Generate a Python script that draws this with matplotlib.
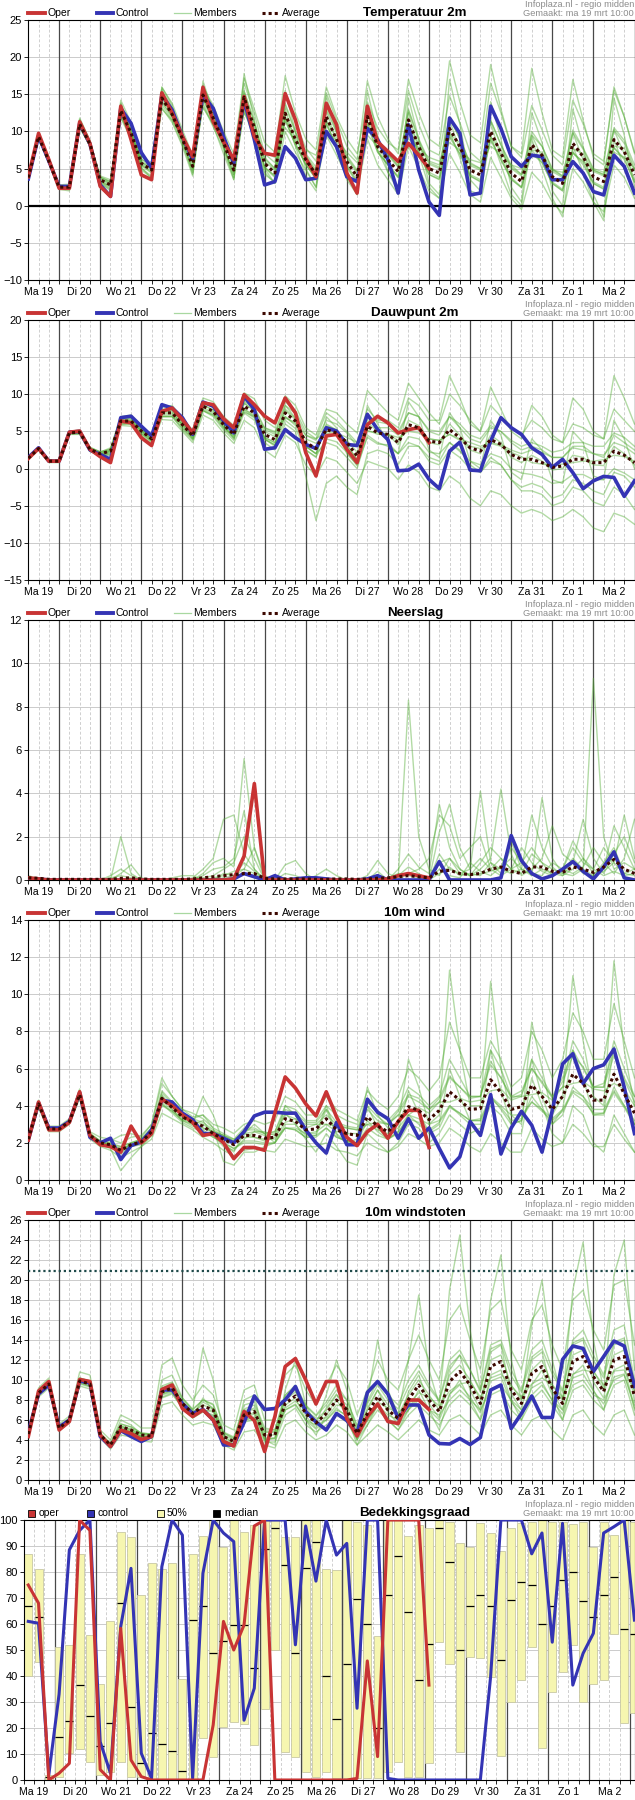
import numpy as np
import matplotlib
matplotlib.use('Agg')
import matplotlib.pyplot as plt
from matplotlib.lines import Line2D
from matplotlib.patches import Rectangle

plt.rcParams['font.family'] = ['Liberation Sans', 'DejaVu Sans']

# one value every 6 hours, starting Ma 19 06:00 (60 steps up to Di 3 00:00)
day_labels = ['Ma 19', 'Di 20', 'Wo 21', 'Do 22', 'Vr 23', 'Za 24', 'Zo 25',
              'Ma 26', 'Di 27', 'Wo 28', 'Do 29', 'Vr 30', 'Za 31', 'Zo 1', 'Ma 2']

# ---------------- Temperatuur 2m ----------------
temp_avg = [3.8, 9.3, 6.0, 2.5, 2.5, 11.0, 8.3, 3.5, 2.8, 12.8,
            9.8, 5.7, 4.8, 14.5, 12.3, 9.0, 5.3, 14.9, 11.8, 8.5,
            4.8, 14.6, 10.5, 5.7, 4.4, 12.45, 8.9, 6.2, 4.2, 12.0,
            8.9, 5.95, 3.9, 12.0, 7.95, 6.2, 4.6, 11.55, 7.95, 5.0,
            4.4, 10.4, 7.95, 4.8, 4.15, 10.0, 7.05, 4.4, 3.25, 8.2,
            6.8, 3.9, 3.0, 8.4, 6.6, 3.9, 3.25, 8.9, 7.3, 4.15]
temp_oper = [3.9, 9.75, 6.2, 2.35, 2.35, 11.3, 8.4, 2.6, 1.25, 13.4,
             8.9, 4.15, 3.5, 15.2, 12.45, 9.3, 6.6, 15.95, 11.3, 8.6,
             6.2, 14.7, 9.3, 7.05, 6.8, 15.1, 11.55, 6.4, 3.9, 13.8,
             10.9, 4.4, 1.7, 13.4, 8.6, 7.3, 5.95, 8.4, 6.8, 5.0]
temp_ctrl = [3.6, 9.4, 6.0, 2.6, 2.6, 11.1, 8.3, 2.8, 1.25, 13.1,
             11.1, 7.15, 5.05, 14.9, 12.9, 9.3, 6.2, 14.9, 13.1, 9.3,
             5.7, 14.2, 8.9, 2.8, 3.25, 7.95, 6.4, 3.5, 3.7, 10.0,
             7.95, 3.9, 3.25, 10.4, 8.9, 6.2, 1.7, 10.9, 4.8, 0.5,
             -1.3, 11.8, 9.75, 1.45, 1.7, 13.4, 10.4, 6.6, 5.3, 6.8,
             6.6, 3.5, 3.5, 5.95, 4.4, 1.9, 1.45, 6.8, 5.3, 1.7]
temp_members = [
    [3.9, 9.6, 6.3, 2.7, 2.6, 11.5, 8.6, 3.9, 3.2, 13.6, 10.5, 6.3, 5.4, 15.6, 13.2, 9.8, 6.2, 16.2, 13.0, 9.6,
     6.0, 16.5, 12.4, 7.0, 5.8, 15.0, 11.2, 7.8, 6.0, 15.2, 11.5, 8.0, 6.2, 16.8, 12.0, 9.0, 7.0, 15.5, 11.0, 7.5,
     6.8, 14.8, 11.2, 7.2, 6.0, 16.5, 12.5, 8.0, 6.5, 13.5, 10.2, 6.8, 5.5, 14.2, 11.0, 7.0, 6.0, 15.5, 12.0, 7.2],
    [3.7, 9.0, 5.8, 2.3, 2.4, 10.6, 8.0, 3.2, 2.3, 12.0, 9.2, 5.0, 4.0, 13.6, 11.5, 8.2, 4.5, 13.5, 10.6, 7.6,
     3.8, 12.8, 9.0, 4.5, 3.0, 10.0, 7.2, 4.8, 2.5, 9.5, 6.8, 4.0, 1.8, 9.0, 5.5, 3.5, 1.5, 8.0, 5.0, 2.0,
     1.0, 7.0, 4.5, 1.5, 0.5, 6.5, 3.8, 1.0, -0.5, 4.5, 3.0, 0.5, -1.0, 5.0, 3.2, 0.5, -0.8, 5.5, 3.8, 1.0],
    [3.8, 9.5, 6.1, 2.2, 2.0, 11.8, 8.8, 3.0, 2.0, 13.8, 10.2, 5.2, 3.6, 16.0, 13.5, 9.0, 4.2, 16.8, 12.5, 8.0,
     3.5, 17.8, 11.5, 5.0, 3.0, 15.5, 10.0, 5.0, 2.5, 14.8, 10.0, 4.0, 1.5, 15.5, 9.5, 4.5, 2.0, 14.5, 9.0, 3.0,
     1.5, 17.0, 11.0, 3.5, 2.0, 14.0, 9.0, 2.5, 0.5, 12.5, 8.5, 2.0, 0.0, 13.0, 8.0, 1.5, -1.5, 14.5, 9.5, 2.5],
    [3.9, 9.0, 6.0, 2.8, 2.9, 10.5, 8.2, 4.0, 3.5, 12.0, 9.6, 6.2, 5.6, 13.0, 11.5, 9.5, 6.5, 13.2, 11.0, 9.2,
     6.5, 12.5, 10.0, 7.2, 6.5, 10.5, 8.8, 7.5, 6.8, 10.0, 8.8, 7.2, 5.8, 9.5, 8.0, 7.0, 6.0, 9.0, 7.8, 6.5,
     6.0, 8.5, 7.5, 6.2, 5.8, 8.0, 7.0, 5.5, 5.0, 6.8, 6.2, 4.8, 4.5, 7.0, 6.0, 4.8, 4.2, 7.2, 6.5, 5.0],
    [3.8, 9.4, 6.1, 2.5, 2.6, 11.2, 8.4, 3.6, 3.0, 13.0, 10.0, 5.9, 5.0, 14.8, 12.6, 9.3, 5.8, 15.3, 12.2, 9.0,
     5.5, 15.4, 11.2, 6.5, 5.0, 13.8, 10.0, 7.0, 5.2, 13.5, 10.0, 6.8, 4.8, 13.0, 8.8, 7.0, 5.5, 13.0, 9.0, 6.0,
     5.5, 12.0, 9.0, 5.8, 5.0, 11.5, 8.2, 5.5, 4.2, 10.0, 8.0, 5.0, 4.0, 10.2, 7.8, 5.0, 4.5, 10.5, 8.8, 5.5],
    [3.7, 9.2, 5.9, 2.4, 2.4, 10.8, 8.1, 3.3, 2.6, 12.5, 9.5, 5.5, 4.5, 14.0, 12.0, 8.8, 5.0, 14.5, 11.4, 8.0,
     4.2, 13.8, 10.0, 5.2, 4.0, 11.5, 8.2, 5.6, 3.6, 11.0, 8.0, 5.2, 3.0, 11.2, 7.2, 5.5, 3.8, 10.2, 7.0, 4.2,
     3.5, 9.5, 7.0, 4.0, 3.2, 9.0, 6.2, 3.5, 2.5, 7.5, 5.8, 3.0, 2.0, 7.2, 5.5, 3.0, 2.2, 7.8, 6.2, 3.2],
    [3.9, 9.7, 6.4, 2.6, 2.5, 11.6, 8.7, 3.8, 3.3, 14.2, 11.2, 6.6, 5.8, 15.9, 13.8, 10.2, 6.8, 16.0, 13.5, 10.0,
     7.0, 17.2, 13.0, 8.5, 7.2, 17.5, 12.5, 9.0, 7.5, 16.0, 12.0, 9.0, 7.0, 14.0, 10.5, 8.5, 7.5, 17.0, 12.5, 9.0,
     8.0, 19.5, 14.0, 9.5, 8.5, 19.0, 13.0, 8.0, 7.0, 18.5, 12.5, 7.5, 6.5, 17.0, 11.5, 6.5, 5.5, 16.0, 12.0, 7.0],
    [3.6, 9.1, 5.8, 2.3, 2.2, 10.6, 8.0, 3.0, 2.2, 11.8, 9.0, 4.8, 3.8, 13.2, 11.2, 8.0, 4.0, 13.8, 10.8, 7.0,
     3.5, 13.0, 9.2, 4.2, 3.2, 12.0, 8.0, 4.0, 2.0, 11.5, 7.5, 3.5, 1.5, 12.5, 7.5, 4.5, 2.5, 11.0, 7.0, 2.5,
     1.0, 10.0, 6.5, 2.0, 1.5, 9.5, 5.5, 1.5, 0.0, 9.0, 5.0, 1.0, -1.5, 8.0, 4.5, 0.5, -2.0, 9.0, 5.0, 1.5],
    [4.0, 9.5, 6.2, 2.7, 2.7, 11.3, 8.6, 3.8, 3.1, 13.2, 10.2, 6.0, 5.2, 15.0, 12.8, 9.4, 5.8, 15.5, 12.4, 9.0,
     5.4, 15.5, 11.2, 6.3, 5.0, 13.5, 9.8, 6.8, 4.8, 13.0, 9.8, 6.6, 4.6, 13.2, 8.8, 7.0, 5.3, 12.8, 8.8, 5.8,
     5.2, 11.8, 9.0, 5.6, 5.0, 11.5, 8.2, 5.2, 4.2, 9.5, 8.0, 4.8, 4.0, 9.8, 7.6, 4.8, 4.2, 10.2, 8.4, 5.0],
    [3.7, 9.1, 5.8, 2.3, 2.3, 10.7, 8.0, 3.2, 2.5, 12.3, 9.4, 5.4, 4.4, 14.0, 11.8, 8.6, 4.8, 14.3, 11.2, 8.0,
     4.2, 13.9, 9.8, 5.1, 3.8, 11.6, 8.2, 5.6, 3.6, 11.0, 8.0, 5.3, 3.2, 10.8, 7.2, 5.5, 3.8, 10.5, 7.2, 4.2,
     3.6, 9.2, 7.0, 4.0, 3.3, 8.8, 6.2, 3.6, 2.4, 7.0, 5.8, 3.0, 2.0, 7.2, 5.8, 3.0, 2.3, 7.8, 6.4, 3.2],
    [3.8, 9.3, 6.0, 2.6, 2.5, 11.0, 8.4, 3.4, 2.7, 12.9, 10.0, 5.6, 4.7, 14.8, 12.0, 8.6, 5.0, 15.2, 12.2, 8.0,
     4.5, 15.0, 10.0, 5.2, 4.0, 13.0, 8.5, 5.5, 3.8, 12.8, 8.5, 5.5, 3.4, 12.8, 7.5, 5.5, 4.0, 12.5, 7.5, 4.5,
     3.8, 11.5, 7.5, 4.2, 3.5, 11.2, 6.5, 3.8, 2.5, 9.5, 6.5, 3.2, 2.2, 9.8, 6.2, 3.2, 2.5, 10.2, 7.0, 3.5],
    [3.9, 9.4, 6.1, 2.5, 2.6, 11.1, 8.2, 3.6, 2.9, 12.7, 9.6, 5.8, 4.9, 14.3, 12.5, 9.3, 5.6, 14.6, 11.5, 8.8,
     5.0, 14.2, 10.8, 6.0, 4.8, 12.0, 9.2, 6.6, 4.6, 11.5, 9.2, 6.4, 4.4, 11.2, 8.4, 6.8, 5.2, 10.8, 8.4, 5.6,
     5.0, 9.6, 8.5, 5.4, 4.8, 9.2, 7.6, 5.0, 4.0, 7.5, 7.2, 4.6, 3.8, 7.6, 7.0, 4.6, 4.0, 8.0, 7.8, 4.8],
]

# ---------------- Dauwpunt 2m ----------------
dew_avg = [1.4, 2.7, 1.0, 1.0, 4.8, 4.9, 2.6, 2.0, 2.35, 6.4,
           6.4, 5.05, 4.0, 7.5, 7.5, 5.9, 4.4, 8.4, 7.7, 5.9,
           4.6, 8.4, 7.5, 4.6, 3.9, 7.5, 6.4, 3.5, 2.7, 5.25,
           4.8, 3.5, 1.7, 5.7, 4.8, 4.6, 3.5, 5.9, 5.5, 3.7,
           3.5, 5.25, 4.15, 2.8, 2.35, 3.9, 3.25, 1.9, 1.25, 1.25,
           0.8, 0.15, 0.35, 1.25, 1.25, 0.8, 0.8, 2.35, 1.8, 0.8]
dew_oper = [1.35, 2.7, 1.0, 1.0, 4.9, 5.05, 2.6, 1.6, 0.8, 6.4,
            6.15, 4.15, 3.1, 7.7, 8.15, 6.6, 4.8, 8.85, 8.6, 6.7,
            5.5, 9.95, 8.6, 7.05, 6.15, 9.5, 7.5, 2.15, -1.0, 4.4,
            4.6, 2.6, 0.8, 5.9, 7.05, 6.15, 4.8, 5.25, 5.5, 3.5]
dew_ctrl = [1.5, 2.8, 1.0, 1.0, 4.9, 5.0, 2.5, 1.9, 1.25, 6.85,
            7.05, 5.7, 4.4, 8.6, 8.15, 6.85, 4.6, 8.95, 8.4, 6.4,
            4.8, 9.75, 7.95, 2.6, 2.8, 5.25, 4.15, 3.25, 2.7, 5.5,
            5.05, 3.25, 3.1, 7.3, 5.25, 3.9, -0.3, -0.2, 0.6, -1.45,
            -2.7, 2.35, 3.55, -0.2, -0.3, 3.7, 6.85, 5.5, 4.6, 2.8,
            1.9, 0.15, 1.25, -0.55, -2.7, -1.65, -1.05, -1.2, -3.75, -1.65]
dew_members = [
    [1.5, 2.9, 1.2, 1.1, 5.0, 5.2, 2.9, 2.2, 2.8, 7.0, 7.2, 5.6, 4.5, 8.2, 8.5, 6.8, 5.2, 9.5, 9.0, 7.0,
     5.8, 10.2, 9.4, 6.5, 5.5, 9.8, 8.5, 5.5, 4.5, 8.0, 7.5, 6.0, 4.8, 10.5, 9.0, 7.5, 6.5, 11.5, 9.5, 7.5,
     6.0, 10.0, 8.5, 6.5, 5.0, 8.5, 7.0, 5.5, 4.5, 6.5, 5.5, 4.0, 3.5, 6.0, 5.5, 4.5, 4.0, 8.0, 6.5, 5.0],
    [1.2, 2.5, 0.8, 0.8, 4.6, 4.6, 2.3, 1.7, 1.8, 5.8, 5.7, 4.4, 3.4, 6.6, 6.5, 5.0, 3.5, 7.2, 6.5, 4.8,
     3.4, 6.5, 5.5, 2.5, 1.5, 4.5, 3.5, 0.5, -1.0, 1.5, 1.0, -0.5, -2.0, 1.0, 0.5, 0.0, -1.5, 0.5, -0.5, -2.5,
     -3.0, -1.0, -2.0, -4.0, -5.0, -3.0, -3.5, -5.0, -6.0, -5.5, -6.0, -7.0, -6.5, -5.5, -6.5, -8.0, -8.5, -6.0, -6.5, -7.5],
    [1.4, 2.6, 0.9, 1.0, 5.0, 5.1, 2.4, 1.8, 2.0, 6.6, 6.8, 5.2, 3.8, 7.9, 8.0, 6.2, 4.0, 9.0, 8.3, 6.0,
     4.0, 9.5, 8.0, 4.0, 3.0, 8.5, 6.8, 2.5, 1.5, 7.0, 5.5, 2.0, 0.5, 8.5, 6.0, 3.5, 2.0, 9.0, 7.0, 2.5,
     1.5, 7.5, 5.5, 1.0, 0.0, 6.5, 4.5, -0.5, -1.5, 4.0, 2.5, -1.5, -2.0, 5.0, 3.5, -1.0, -1.5, 6.5, 4.0, 0.0],
    [1.6, 2.8, 1.1, 1.2, 4.7, 4.8, 2.8, 2.3, 2.6, 6.0, 6.1, 5.2, 4.3, 7.0, 7.0, 6.0, 5.0, 7.8, 7.2, 6.2,
     5.3, 7.6, 7.0, 5.5, 5.0, 6.8, 6.2, 4.5, 4.0, 5.0, 4.8, 4.2, 3.5, 5.0, 4.8, 4.6, 4.2, 5.0, 4.8, 4.0,
     3.8, 4.6, 4.0, 3.5, 3.0, 3.5, 3.2, 2.5, 2.0, 2.5, 2.2, 1.5, 1.5, 2.8, 2.5, 2.0, 1.8, 3.5, 3.0, 2.0],
    [1.3, 2.7, 1.0, 0.9, 4.8, 5.0, 2.6, 2.0, 2.2, 6.2, 6.5, 5.0, 3.9, 7.6, 7.8, 5.8, 4.2, 8.6, 7.9, 5.6,
     4.2, 8.8, 7.8, 4.0, 3.2, 7.8, 6.6, 3.0, 2.0, 6.0, 5.2, 3.2, 1.2, 6.5, 5.5, 5.5, 4.5, 7.5, 7.0, 5.0,
     4.5, 7.0, 5.5, 4.0, 3.5, 5.5, 5.0, 3.5, 2.5, 3.0, 2.5, 1.5, 1.5, 3.0, 3.0, 2.0, 1.5, 4.5, 3.5, 2.5],
    [1.4, 2.6, 1.0, 1.0, 4.8, 4.8, 2.5, 1.9, 2.4, 6.5, 6.3, 4.8, 3.7, 7.2, 7.2, 5.5, 4.0, 8.0, 7.4, 5.5,
     4.4, 8.0, 7.0, 4.2, 3.5, 7.0, 5.8, 3.0, 2.0, 3.5, 3.0, 1.5, 0.0, 4.5, 3.5, 3.0, 2.0, 3.5, 3.0, 1.0,
     0.5, 2.5, 1.5, 0.0, -0.5, 1.0, 0.5, -1.5, -2.5, -2.0, -2.5, -4.0, -3.5, -1.5, -2.0, -3.0, -3.5, -0.5, -1.0, -2.5],
    [1.5, 2.8, 1.1, 1.0, 4.9, 5.0, 2.7, 2.1, 2.5, 6.6, 6.6, 5.3, 4.3, 7.8, 7.9, 6.3, 4.9, 8.9, 8.3, 6.4,
     5.2, 9.2, 8.2, 5.5, 4.8, 9.0, 7.8, 5.0, 4.0, 7.5, 6.5, 5.0, 3.5, 8.0, 6.5, 6.5, 5.5, 9.5, 8.5, 6.5,
     6.5, 12.5, 9.5, 6.0, 5.0, 11.0, 8.0, 5.0, 4.0, 8.5, 7.0, 4.5, 3.5, 9.5, 8.0, 5.0, 4.0, 12.5, 9.5, 6.0],
    [1.3, 2.6, 0.9, 0.9, 4.7, 4.7, 2.4, 1.8, 1.9, 6.0, 6.0, 4.6, 3.6, 7.0, 7.0, 5.2, 3.8, 7.8, 7.0, 5.2,
     3.8, 7.5, 6.5, 3.5, 2.5, 6.0, 5.0, -1.0, -7.0, -2.0, -1.0, -2.5, -3.5, 2.0, 2.5, 2.0, 0.5, 3.0, 3.0, 1.5,
     1.0, 3.5, 2.5, 0.5, -0.5, 1.5, 0.5, -1.5, -3.0, -3.0, -3.5, -5.0, -4.5, -2.5, -3.0, -4.5, -5.0, -2.5, -3.5, -5.5],
    [1.5, 2.8, 1.1, 1.1, 4.9, 5.1, 2.8, 2.2, 2.6, 6.8, 6.8, 5.4, 4.3, 8.0, 8.0, 6.4, 4.8, 9.0, 8.2, 6.4,
     5.0, 9.0, 8.2, 5.3, 4.6, 8.5, 7.4, 4.5, 3.8, 6.5, 6.0, 4.8, 3.0, 7.2, 6.3, 6.0, 5.0, 7.5, 7.0, 5.2,
     5.0, 7.0, 6.0, 4.5, 4.0, 5.8, 5.0, 3.8, 3.0, 3.5, 3.0, 2.2, 2.5, 3.5, 3.5, 3.0, 3.0, 4.8, 4.2, 3.0],
    [1.3, 2.6, 0.9, 0.9, 4.7, 4.7, 2.4, 1.8, 2.1, 6.0, 6.0, 4.7, 3.7, 7.0, 7.0, 5.4, 4.0, 7.8, 7.2, 5.4,
     4.1, 7.8, 6.8, 3.9, 3.2, 6.5, 5.4, 2.5, 1.6, 4.0, 3.6, 2.2, 0.4, 4.2, 3.3, 3.2, 2.0, 4.3, 4.0, 2.2,
     2.0, 3.5, 2.3, 1.0, 0.5, 2.0, 1.5, 0.0, -0.6, -0.8, -1.2, -2.0, -1.8, -0.8, -0.8, -1.5, -1.5, 0.0, -0.6, -1.5],
    [1.4, 2.7, 1.0, 1.0, 4.8, 4.9, 2.6, 2.0, 2.4, 6.5, 6.5, 5.0, 4.0, 7.6, 7.6, 5.8, 4.3, 8.6, 7.8, 5.7,
     4.4, 8.8, 7.8, 4.2, 3.5, 8.0, 6.8, 3.0, 2.0, 5.8, 5.2, 3.2, 1.2, 6.2, 5.0, 4.6, 3.2, 6.5, 5.8, 3.5,
     3.2, 6.0, 4.5, 2.5, 2.0, 4.5, 3.5, 1.5, 0.8, 1.8, 1.0, -0.2, 0.0, 1.8, 1.5, 0.5, 0.4, 3.0, 2.0, 0.5],
    [1.4, 2.7, 1.0, 1.0, 4.8, 4.9, 2.6, 2.0, 2.3, 6.3, 6.3, 5.1, 4.1, 7.4, 7.4, 6.0, 4.5, 8.2, 7.6, 6.1,
     4.8, 8.0, 7.2, 5.0, 4.3, 7.0, 6.0, 4.0, 3.4, 4.8, 4.4, 3.8, 2.2, 5.2, 4.6, 4.6, 3.8, 5.4, 5.2, 4.0,
     3.8, 4.6, 3.8, 3.0, 2.7, 3.4, 3.0, 2.2, 1.6, 0.8, 0.6, 0.4, 0.6, 0.8, 1.0, 1.0, 1.2, 1.8, 1.6, 1.0],
]

# ---------------- Neerslag ----------------
rain_avg = [0.1, 0.08, 0.03, 0.03, 0.03, 0.03, 0.03, 0.03, 0.03, 0.08,
            0.1, 0.05, 0.03, 0.03, 0.03, 0.03, 0.05, 0.1, 0.15, 0.2,
            0.25, 0.3, 0.3, 0.08, 0.05, 0.05, 0.05, 0.05, 0.03, 0.03,
            0.05, 0.05, 0.03, 0.05, 0.08, 0.1, 0.15, 0.2, 0.15, 0.1,
            0.4, 0.45, 0.3, 0.25, 0.3, 0.5, 0.6, 0.4, 0.3, 0.6,
            0.6, 0.4, 0.35, 0.6, 0.5, 0.35, 0.6, 0.95, 0.5, 0.3]
rain_oper = [0.1, 0.05, 0, 0, 0, 0, 0, 0, 0, 0,
             0, 0, 0, 0, 0, 0, 0, 0, 0, 0,
             0.05, 1.1, 4.45, 0, 0, 0, 0, 0, 0, 0,
             0, 0, 0, 0, 0, 0.05, 0.2, 0.3, 0.2, 0.1]
rain_ctrl = [0.05, 0.05, 0, 0, 0, 0, 0, 0, 0, 0,
             0, 0, 0, 0, 0, 0, 0, 0, 0, 0,
             0.05, 0.3, 0.15, 0, 0.2, 0, 0.05, 0.1, 0.1, 0.05,
             0, 0, 0, 0.05, 0.2, 0, 0, 0, 0, 0,
             0.85, 0, 0, 0, 0, 0, 0.1, 2.05, 0.9, 0.3,
             0.05, 0.2, 0.5, 0.85, 0.4, 0.05, 0.6, 1.3, 0.1, 0]
rain_members = [
    [0.1, 0.1, 0, 0, 0, 0, 0, 0, 0, 2.0, 0.3, 0, 0, 0, 0, 0, 0, 0.3, 0.8, 1.0,
     0.6, 5.6, 1.5, 0.2, 0, 0, 0, 0, 0, 0, 0, 0, 0, 0, 0, 0, 0.5, 1.2, 0.6, 0.3,
     3.5, 1.5, 0.5, 0.2, 0.8, 1.5, 1.0, 0.5, 0.3, 1.2, 0.8, 0.2, 0.5, 1.8, 1.0, 0.3, 0.5, 2.5, 1.5, 0.5],
    [0.2, 0.05, 0, 0, 0, 0, 0, 0, 0, 0.3, 0.7, 0.1, 0, 0, 0, 0, 0.1, 0.5, 1.0, 2.8,
     3.0, 1.2, 0.5, 0, 0, 0, 0, 0, 0, 0, 0, 0, 0, 0.2, 0.9, 0.3, 0.1, 8.3, 2.0, 0.5,
     0.2, 1.0, 0.3, 0.5, 4.1, 0.8, 0.3, 1.5, 0.8, 0.2, 3.8, 1.0, 0.3, 0.2, 0.5, 9.3, 2.0, 0.5, 0.8, 0.5],
    [0.1, 0.1, 0, 0, 0, 0, 0, 0, 0.1, 0.2, 0.1, 0, 0, 0, 0, 0, 0, 0.2, 0.5, 0.6,
     1.0, 3.2, 0.5, 0, 0, 0.7, 0.9, 0.3, 0, 0, 0, 0, 0, 0, 0.4, 0, 0, 0, 0, 0,
     1.2, 0.5, 0.3, 0.2, 0.5, 1.0, 4.2, 1.2, 0.2, 0.5, 1.0, 2.5, 1.2, 0.8, 2.8, 1.0, 0.3, 1.2, 2.0, 0.8],
    [0.1, 0, 0, 0, 0, 0, 0, 0, 0, 0, 0, 0, 0, 0, 0.1, 0.2, 0.2, 0, 0, 0.3,
     0.2, 0.5, 1.5, 0, 0, 0.3, 0.2, 0, 0, 0, 0, 0, 0, 0, 0, 0, 0, 0.3, 0.5, 1.0,
     3.0, 2.5, 1.0, 1.5, 2.0, 0.5, 1.0, 0.5, 0.8, 1.5, 0.8, 0.5, 0.3, 1.0, 0.5, 0.2, 0.4, 0.8, 3.0, 1.0],
    [0, 0, 0, 0, 0, 0, 0, 0, 0, 0, 0, 0, 0, 0, 0, 0, 0, 0, 0.1, 0.2,
     0.4, 0.5, 0.3, 0, 0, 0, 0, 0, 0, 0, 0, 0, 0, 0, 0, 0, 0, 0, 0, 0,
     0.3, 0.6, 0.2, 0.3, 0.2, 0.8, 0.5, 0.3, 0.5, 3.0, 1.5, 0.6, 0.2, 0.5, 1.0, 0.5, 0.2, 0.4, 0.2, 0.3],
    [0.1, 0.1, 0, 0, 0, 0, 0, 0, 0, 0, 0, 0, 0, 0, 0, 0, 0, 0, 0, 0,
     0, 0.3, 0.1, 0, 0, 0, 0, 0, 0, 0, 0, 0, 0, 0, 0, 0, 0.2, 0.6, 0.3, 0,
     0.8, 1.0, 0.5, 0.2, 0.3, 0.4, 0.6, 1.0, 0.5, 0.3, 0.2, 0.8, 0.5, 0.3, 0.6, 1.5, 0.8, 0.3, 1.0, 2.8],
    [0.05, 0.05, 0, 0, 0, 0, 0, 0, 0.2, 0.5, 0.2, 0, 0, 0, 0, 0, 0, 0.1, 0.2, 0.5,
     0.8, 2.0, 1.0, 0, 0, 0, 0, 0, 0.2, 0.5, 0.2, 0, 0, 0, 0.1, 0, 0, 0, 0, 0,
     2.2, 3.5, 1.5, 0.5, 1.0, 0.5, 0.2, 0.5, 1.5, 0.8, 0.4, 0.2, 0.5, 1.5, 0.8, 0.5, 1.5, 0.8, 0.3, 0.5],
    [0.1, 0.05, 0, 0, 0, 0, 0, 0, 0, 0, 0, 0, 0, 0, 0, 0, 0, 0, 0, 0.1,
     0.2, 0.8, 0.4, 0, 0, 0, 0, 0, 0, 0, 0, 0, 0, 0, 0, 0.1, 0.3, 0.2, 0.1, 0,
     0.5, 0.2, 0.1, 0.8, 0.4, 0.2, 0.6, 1.8, 0.5, 0.2, 0.5, 0.3, 0.2, 0.8, 0.3, 0.2, 0.8, 1.5, 0.3, 0.2],
]

# ---------------- 10m wind ----------------
wind_avg = [2.2, 4.1, 2.75, 2.75, 3.15, 4.6, 2.4, 2.0, 1.9, 1.6,
            1.9, 2.05, 2.6, 4.4, 3.9, 3.4, 3.1, 2.9, 2.5, 2.2,
            1.9, 2.4, 2.4, 2.25, 2.3, 3.3, 3.15, 2.7, 2.75, 3.3,
            2.7, 2.5, 2.4, 3.4, 2.9, 2.6, 3.15, 3.95, 3.75, 3.25,
            3.75, 4.75, 4.3, 3.8, 3.85, 5.4, 4.7, 3.8, 3.95, 5.1,
            4.5, 3.8, 4.5, 5.7, 5.2, 4.3, 4.3, 5.7, 4.65, 3.6]
wind_oper = [2.15, 4.2, 2.7, 2.7, 3.1, 4.75, 2.4, 1.9, 1.8, 1.5,
             2.9, 2.0, 2.5, 4.35, 4.0, 3.5, 3.1, 2.4, 2.5, 2.0,
             1.15, 1.75, 1.75, 1.6, 3.6, 5.55, 4.95, 4.1, 3.45, 4.75,
             3.4, 2.3, 1.85, 2.6, 3.0, 2.25, 3.15, 3.75, 3.75, 1.75]
wind_ctrl = [2.15, 4.15, 2.8, 2.8, 3.15, 4.7, 2.3, 2.0, 2.25, 1.1,
             1.85, 2.05, 2.7, 4.3, 4.2, 3.6, 3.25, 2.5, 2.5, 2.25,
             2.0, 2.6, 3.45, 3.65, 3.65, 3.6, 3.6, 2.7, 2.0, 1.45,
             3.1, 1.9, 1.9, 4.35, 3.65, 3.3, 2.25, 3.3, 2.25, 2.8,
             1.7, 0.65, 1.25, 3.15, 2.4, 4.6, 1.4, 2.8, 3.7, 2.95,
             1.5, 3.75, 6.25, 6.8, 5.2, 6.0, 6.2, 7.05, 5.0, 2.5]
wind_members = [
    [2.3, 4.3, 2.9, 2.9, 3.3, 4.9, 2.6, 2.3, 2.2, 2.0, 2.3, 2.4, 3.0, 5.2, 4.5, 3.8, 3.4, 3.5, 3.0, 2.8,
     2.5, 3.0, 3.2, 3.0, 3.2, 4.5, 4.2, 3.5, 3.5, 4.5, 3.8, 3.5, 3.2, 4.8, 4.2, 3.8, 4.5, 6.0, 5.5, 4.8,
     5.5, 8.5, 7.0, 5.5, 5.5, 7.5, 6.5, 5.0, 5.5, 8.0, 7.0, 5.5, 6.5, 9.0, 8.0, 6.5, 6.5, 9.5, 7.5, 5.5],
    [2.1, 3.9, 2.6, 2.6, 3.0, 4.4, 2.2, 1.8, 1.6, 1.2, 1.5, 1.8, 2.2, 3.6, 3.3, 3.0, 2.7, 2.3, 2.0, 1.6,
     1.3, 1.6, 1.7, 1.6, 1.5, 2.2, 2.0, 1.8, 1.8, 2.0, 1.6, 1.5, 1.3, 2.0, 1.7, 1.5, 1.8, 2.5, 2.2, 1.8,
     2.0, 2.8, 2.4, 1.8, 1.5, 2.5, 2.0, 1.5, 1.5, 2.8, 2.2, 1.8, 2.0, 3.0, 2.5, 1.8, 1.8, 3.0, 2.2, 1.5],
    [2.2, 4.2, 2.7, 2.8, 3.2, 4.7, 2.5, 2.1, 1.9, 1.5, 2.0, 2.2, 2.8, 4.8, 4.2, 3.5, 3.0, 4.5, 3.5, 2.0,
     1.5, 2.5, 3.0, 2.5, 2.0, 4.0, 3.5, 2.5, 2.5, 4.0, 2.5, 2.0, 2.2, 5.0, 3.5, 2.8, 3.0, 6.5, 5.0, 3.0,
     3.5, 11.3, 7.0, 4.0, 4.0, 10.7, 6.0, 3.5, 3.0, 8.5, 6.0, 3.5, 4.5, 11.0, 7.5, 4.5, 4.0, 11.8, 7.0, 4.0],
    [2.2, 4.0, 2.8, 2.7, 3.1, 4.5, 2.4, 2.0, 1.9, 1.8, 2.0, 2.1, 2.5, 4.2, 3.8, 3.3, 3.0, 2.8, 2.6, 2.4,
     2.1, 2.3, 2.3, 2.2, 2.2, 2.8, 2.8, 2.5, 2.6, 3.0, 2.6, 2.5, 2.5, 3.0, 2.7, 2.5, 2.8, 3.5, 3.3, 3.0,
     3.2, 4.0, 3.6, 3.2, 3.3, 4.5, 4.0, 3.5, 3.5, 4.2, 3.8, 3.3, 3.8, 4.8, 4.5, 3.8, 3.8, 4.8, 4.0, 3.2],
    [2.2, 4.1, 2.7, 2.7, 3.1, 4.6, 2.3, 1.9, 1.7, 0.5, 1.2, 1.8, 2.4, 4.0, 3.7, 3.2, 3.3, 3.5, 2.8, 1.0,
     0.8, 1.5, 1.5, 1.8, 2.0, 3.0, 3.0, 2.2, 1.5, 2.5, 1.8, 1.0, 0.8, 2.5, 2.0, 1.5, 2.0, 3.0, 2.8, 2.0,
     2.5, 3.5, 3.0, 2.5, 2.8, 4.0, 3.5, 2.5, 2.5, 5.5, 4.0, 2.5, 2.0, 4.0, 3.5, 2.0, 1.5, 3.5, 2.5, 1.5],
    [2.3, 4.2, 2.8, 2.8, 3.2, 4.8, 2.5, 2.1, 2.1, 2.4, 2.5, 2.3, 3.0, 5.5, 4.5, 3.8, 3.6, 3.3, 2.8, 2.5,
     2.2, 2.8, 2.8, 2.5, 2.6, 4.0, 3.8, 3.2, 3.2, 4.0, 3.5, 3.2, 3.0, 4.2, 3.6, 3.2, 3.8, 5.0, 4.6, 4.0,
     4.5, 6.5, 5.5, 4.5, 4.5, 7.0, 6.0, 4.5, 4.5, 6.5, 5.5, 4.5, 5.0, 7.5, 6.5, 5.0, 5.0, 7.5, 6.0, 4.5],
    [2.1, 4.0, 2.7, 2.7, 3.1, 4.5, 2.3, 1.9, 1.8, 1.4, 1.8, 2.0, 2.5, 4.1, 3.6, 3.1, 2.8, 2.6, 2.3, 2.0,
     1.7, 2.0, 2.0, 1.9, 2.0, 2.8, 2.7, 2.3, 2.3, 2.8, 2.3, 2.1, 2.0, 3.2, 2.6, 2.2, 2.5, 3.5, 3.0, 2.5,
     2.8, 4.0, 3.5, 3.0, 3.0, 4.5, 3.8, 3.0, 3.2, 4.5, 3.8, 3.0, 3.5, 5.0, 4.5, 3.5, 3.5, 5.0, 4.0, 3.0],
    [2.2, 4.1, 2.8, 2.8, 3.2, 4.6, 2.4, 2.0, 2.0, 1.6, 1.9, 2.1, 2.7, 4.5, 4.0, 3.5, 3.2, 3.0, 2.6, 2.3,
     2.0, 2.5, 2.6, 2.4, 2.5, 3.5, 3.3, 2.8, 3.0, 3.5, 3.0, 2.8, 2.7, 3.8, 3.2, 3.0, 3.5, 4.5, 4.2, 3.8,
     4.2, 5.5, 5.0, 4.5, 4.5, 6.2, 5.5, 4.5, 4.8, 6.0, 5.2, 4.5, 5.5, 7.0, 6.0, 5.0, 5.2, 7.0, 5.5, 4.5],
    [2.2, 4.2, 2.8, 2.8, 3.2, 4.7, 2.5, 2.1, 2.0, 1.8, 2.0, 2.2, 2.8, 4.7, 4.1, 3.6, 3.3, 3.1, 2.7, 2.4,
     2.1, 2.7, 2.7, 2.5, 2.6, 3.8, 3.6, 3.1, 3.1, 3.8, 3.1, 2.9, 2.8, 4.0, 3.4, 3.0, 3.7, 4.6, 4.4, 3.8,
     4.4, 5.6, 5.0, 4.4, 4.5, 6.4, 5.5, 4.4, 4.6, 6.0, 5.3, 4.4, 5.3, 6.7, 6.1, 5.0, 5.0, 6.7, 5.4, 4.2],
    [2.2, 4.0, 2.7, 2.7, 3.1, 4.5, 2.3, 1.9, 1.8, 1.5, 1.8, 1.9, 2.4, 4.1, 3.7, 3.2, 2.9, 2.7, 2.3, 2.0,
     1.7, 2.1, 2.1, 2.0, 2.0, 2.8, 2.7, 2.3, 2.4, 2.8, 2.3, 2.1, 2.0, 2.8, 2.4, 2.2, 2.6, 3.3, 3.1, 2.7,
     3.1, 3.9, 3.6, 3.2, 3.2, 4.4, 3.9, 3.2, 3.3, 4.2, 3.7, 3.2, 3.7, 4.7, 4.3, 3.6, 3.6, 4.7, 3.9, 3.0],
    [2.2, 4.1, 2.7, 2.8, 3.1, 4.6, 2.4, 2.0, 1.9, 1.7, 1.9, 2.0, 2.6, 4.6, 3.8, 3.2, 3.0, 3.2, 2.4, 1.8,
     1.6, 2.2, 2.6, 2.6, 2.4, 3.6, 3.0, 2.4, 2.4, 3.8, 2.4, 2.0, 2.0, 4.0, 2.8, 2.2, 2.6, 4.8, 3.6, 2.6,
     3.0, 6.0, 4.5, 3.2, 3.2, 7.0, 4.8, 3.0, 3.2, 6.5, 4.5, 3.0, 3.8, 7.0, 5.5, 3.5, 3.6, 7.2, 4.8, 3.0],
    [2.2, 4.1, 2.8, 2.7, 3.2, 4.6, 2.4, 2.0, 1.9, 1.6, 1.9, 2.1, 2.6, 4.3, 4.0, 3.5, 3.2, 2.8, 2.6, 2.4,
     2.2, 2.5, 2.3, 2.1, 2.3, 3.1, 3.3, 3.0, 3.0, 3.0, 2.9, 2.8, 2.7, 3.0, 3.1, 3.0, 3.5, 3.5, 3.9, 3.6,
     4.2, 4.2, 4.4, 4.2, 4.3, 4.8, 4.9, 4.3, 4.5, 4.6, 4.7, 4.3, 5.0, 5.2, 5.3, 4.9, 4.8, 5.2, 4.9, 4.0],
]

# ---------------- 10m windstoten ----------------
gust_avg = [4.6, 8.7, 9.6, 5.2, 6.0, 9.9, 9.6, 4.5, 3.5, 5.35,
            5.0, 4.5, 4.4, 8.8, 9.2, 7.65, 6.65, 7.4, 7.0, 4.35,
            3.85, 6.5, 6.85, 4.5, 4.5, 7.65, 8.4, 6.65, 5.7, 6.65,
            8.0, 7.05, 4.65, 6.65, 8.35, 7.0, 6.15, 8.05, 9.5, 8.0,
            6.85, 9.85, 10.85, 9.5, 7.65, 11.35, 11.85, 9.0, 7.65, 10.65,
            11.35, 9.15, 7.65, 11.85, 12.35, 10.35, 8.85, 12.0, 12.35, 8.35]
gust_oper = [4.35, 8.9, 9.85, 5.0, 5.85, 10.05, 9.85, 4.5, 3.35, 5.0,
             4.65, 4.05, 4.35, 9.05, 9.5, 7.15, 6.35, 7.0, 6.0, 3.85,
             3.4, 6.85, 5.95, 2.85, 6.35, 11.35, 12.15, 10.0, 7.6, 9.85,
             9.85, 6.15, 4.4, 6.35, 7.6, 5.85, 5.65, 8.0, 8.0, 7.05]
gust_ctrl = [4.8, 8.6, 9.5, 5.3, 6.0, 9.9, 9.7, 4.35, 3.35, 4.95,
             4.35, 3.85, 4.35, 9.0, 9.0, 7.65, 6.65, 7.05, 6.0, 3.5,
             3.5, 5.75, 8.4, 7.05, 7.15, 8.0, 9.35, 6.85, 5.8, 5.0,
             6.65, 5.95, 4.65, 8.75, 9.85, 8.6, 6.15, 7.5, 7.5, 4.5,
             3.65, 3.6, 4.15, 3.55, 4.25, 9.0, 9.5, 5.15, 6.65, 8.4,
             6.25, 6.25, 12.05, 13.4, 13.15, 10.85, 12.35, 13.9, 13.4, 9.35]
gust_members = [
    [4.8, 9.2, 10.2, 5.6, 6.4, 10.8, 10.5, 5.0, 4.0, 6.5, 6.0, 5.2, 5.2, 11.5, 12.2, 9.5, 8.0, 9.5, 8.5, 5.5,
     5.0, 9.0, 9.5, 6.0, 6.0, 10.5, 11.5, 9.0, 7.5, 9.5, 11.5, 10.0, 6.5, 9.0, 12.0, 10.0, 9.0, 12.0, 14.5, 12.0,
     10.0, 16.0, 17.5, 14.0, 11.0, 17.0, 18.0, 13.0, 11.0, 16.0, 17.5, 13.5, 11.0, 18.0, 19.0, 15.0, 13.0, 19.5, 20.0, 13.5],
    [4.4, 8.3, 9.2, 4.9, 5.7, 9.4, 9.1, 4.2, 3.1, 4.5, 4.3, 3.9, 3.8, 7.5, 7.8, 6.5, 5.5, 5.8, 5.5, 3.5,
     3.0, 4.8, 5.0, 3.5, 3.2, 5.5, 6.0, 4.8, 4.0, 4.5, 5.5, 4.8, 3.5, 4.5, 5.5, 4.8, 4.0, 5.0, 6.0, 5.0,
     4.5, 6.0, 6.5, 5.5, 4.5, 6.5, 7.0, 5.5, 4.5, 6.0, 6.5, 5.0, 4.0, 6.5, 7.0, 5.5, 4.5, 6.5, 7.0, 4.5],
    [4.6, 8.8, 9.8, 5.3, 6.1, 10.2, 9.9, 4.6, 3.6, 6.0, 5.5, 4.6, 4.6, 10.0, 10.5, 8.2, 7.0, 13.2, 10.0, 4.5,
     3.5, 8.0, 8.5, 4.0, 3.5, 9.0, 12.0, 7.5, 5.5, 8.5, 12.0, 9.0, 4.0, 8.0, 14.0, 9.0, 6.5, 12.0, 18.5, 11.0,
     7.5, 19.0, 24.5, 15.0, 9.0, 18.0, 22.5, 12.0, 8.0, 15.5, 20.0, 12.0, 8.0, 19.0, 23.8, 14.0, 9.0, 20.5, 24.0, 11.0],
    [4.6, 8.6, 9.5, 5.2, 5.9, 9.7, 9.4, 4.5, 3.5, 5.0, 4.8, 4.4, 4.3, 8.5, 8.8, 7.5, 6.5, 7.0, 6.8, 4.3,
     3.8, 6.0, 6.2, 4.5, 4.5, 7.0, 7.5, 6.0, 5.5, 6.0, 7.0, 6.5, 4.8, 6.0, 7.5, 6.5, 6.0, 7.0, 8.0, 7.0,
     6.5, 8.0, 9.0, 8.0, 7.0, 9.0, 9.5, 8.0, 7.0, 8.5, 9.5, 8.0, 7.0, 9.5, 10.0, 8.5, 8.0, 10.0, 10.5, 7.5],
    [4.5, 8.7, 9.6, 5.1, 6.0, 10.0, 9.6, 4.4, 3.4, 5.2, 4.9, 4.3, 4.4, 8.6, 9.0, 7.5, 6.6, 7.8, 7.2, 4.0,
     3.2, 6.2, 6.8, 4.0, 4.2, 7.5, 8.2, 6.0, 4.5, 6.5, 8.0, 6.5, 3.5, 5.5, 7.5, 6.0, 5.0, 7.0, 9.0, 7.0,
     5.0, 8.5, 10.0, 8.0, 6.0, 10.5, 11.0, 8.0, 6.0, 9.5, 11.0, 8.5, 6.0, 10.5, 11.5, 9.0, 7.0, 11.0, 11.5, 7.0],
    [4.7, 8.8, 9.8, 5.3, 6.1, 10.1, 9.8, 4.6, 3.6, 5.6, 5.3, 4.7, 4.6, 9.2, 9.7, 8.0, 7.0, 8.0, 7.5, 4.8,
     4.3, 7.5, 7.8, 5.2, 5.0, 8.5, 9.5, 7.5, 6.5, 7.8, 9.5, 8.0, 5.5, 7.8, 10.0, 8.5, 7.5, 10.0, 11.5, 9.5,
     8.0, 12.0, 13.0, 11.0, 9.0, 13.5, 14.0, 11.0, 9.0, 13.0, 14.0, 11.0, 9.0, 14.0, 15.0, 12.5, 10.5, 15.0, 15.5, 10.0],
    [4.5, 8.6, 9.4, 5.1, 5.9, 9.7, 9.4, 4.4, 3.4, 5.1, 4.8, 4.3, 4.2, 8.2, 8.6, 7.2, 6.2, 6.8, 6.4, 3.9,
     3.4, 5.8, 6.0, 3.8, 3.8, 6.5, 7.2, 5.5, 4.8, 5.5, 6.5, 5.8, 4.0, 5.5, 7.0, 6.0, 5.0, 6.5, 7.5, 6.5,
     5.5, 7.5, 8.5, 7.5, 6.0, 8.5, 9.0, 7.0, 6.0, 8.0, 9.0, 7.5, 6.0, 9.0, 9.5, 8.0, 7.0, 9.5, 10.0, 6.5],
    [4.6, 8.7, 9.7, 5.2, 6.0, 9.9, 9.6, 4.5, 3.5, 5.4, 5.1, 4.6, 4.5, 9.0, 9.4, 7.8, 6.8, 7.5, 7.1, 4.5,
     4.0, 6.8, 7.2, 4.8, 4.8, 8.0, 8.8, 7.0, 6.0, 7.0, 8.5, 7.5, 5.0, 7.0, 9.0, 7.5, 6.5, 8.5, 10.0, 8.5,
     7.0, 10.5, 11.5, 10.0, 8.0, 12.0, 12.5, 9.5, 8.0, 11.0, 12.0, 9.5, 8.0, 12.5, 13.0, 11.0, 9.0, 12.5, 13.0, 9.0],
    [4.7, 8.9, 9.8, 5.4, 6.2, 10.2, 9.9, 4.7, 3.7, 5.6, 5.3, 4.7, 4.6, 9.4, 9.8, 8.2, 7.1, 8.0, 7.6, 4.7,
     4.2, 7.1, 7.5, 5.0, 5.0, 8.5, 9.3, 7.4, 6.4, 7.5, 9.0, 8.0, 5.3, 7.6, 9.5, 8.0, 7.1, 9.3, 10.9, 9.2,
     7.9, 11.4, 12.5, 11.0, 8.8, 13.1, 13.6, 10.4, 8.8, 12.3, 13.1, 10.6, 8.8, 13.7, 14.2, 12.0, 10.2, 13.8, 14.2, 9.6],
    [4.5, 8.5, 9.4, 5.0, 5.8, 9.6, 9.3, 4.3, 3.3, 5.1, 4.8, 4.3, 4.2, 8.3, 8.7, 7.2, 6.2, 6.9, 6.5, 4.0,
     3.5, 6.0, 6.3, 4.1, 4.1, 7.0, 7.6, 6.0, 5.1, 6.0, 7.2, 6.3, 4.1, 5.9, 7.4, 6.2, 5.4, 7.1, 8.3, 7.0,
     6.0, 8.6, 9.5, 8.3, 6.7, 9.9, 10.3, 7.8, 6.6, 9.2, 9.8, 7.9, 6.6, 10.2, 10.6, 8.9, 7.6, 10.3, 10.6, 7.2],
    [4.6, 8.7, 9.6, 5.2, 6.0, 9.9, 9.6, 4.5, 3.5, 5.4, 5.0, 4.4, 4.4, 9.0, 9.5, 7.5, 6.4, 8.2, 7.0, 4.0,
     3.6, 7.0, 7.0, 4.2, 4.2, 8.2, 9.0, 6.4, 5.2, 7.2, 8.6, 6.8, 4.2, 7.2, 9.0, 6.8, 5.6, 8.8, 10.5, 7.6,
     6.2, 11.0, 12.5, 9.0, 7.0, 12.8, 13.5, 8.6, 7.0, 12.0, 12.8, 8.8, 7.0, 13.5, 14.0, 9.8, 8.2, 13.5, 14.0, 7.8],
    [4.6, 8.7, 9.6, 5.2, 6.0, 9.9, 9.6, 4.5, 3.5, 5.3, 5.0, 4.6, 4.4, 8.6, 8.9, 7.8, 6.9, 6.9, 7.0, 4.7,
     4.1, 6.2, 6.6, 4.8, 4.8, 7.2, 7.9, 6.9, 6.2, 6.2, 7.5, 7.3, 5.1, 6.2, 7.8, 7.2, 6.7, 7.6, 8.7, 8.3,
     7.4, 8.9, 9.6, 9.8, 8.3, 10.2, 10.6, 9.4, 8.3, 9.6, 10.2, 9.5, 8.3, 10.6, 11.0, 10.8, 9.5, 10.9, 11.0, 8.9],
]
gust_threshold = 20.9

# ---------------- Bedekkingsgraad ----------------
cloud_p75 = [86.8, 81, 2, 51, 52, 86.8, 55.8, 36.8, 61, 95.4,
             93.3, 71, 83.3, 81, 83.3, 38.7, 86.8, 93.8, 100, 89.5,
             100, 95.4, 98, 100, 100, 93.6, 93.6, 100, 100, 81,
             80.8, 100, 99.4, 98, 55.4, 100, 100, 93.8, 98, 96.8,
             100, 99.4, 91.3, 89.7, 99, 95, 88, 96.8, 99, 99.4,
             100, 99.4, 99.4, 98.5, 99.4, 89.7, 99.4, 94.2, 100, 99.4]
cloud_p25 = [40.1, 45.3, 0, 1, 10.3, 11.8, 7, 2, 3, 7,
             1, 1, 0, 0, 0, 0, 0, 16, 8.7, 20.3,
             22.4, 21.5, 13.5, 27.2, 50, 10.9, 8.7, 3, 1.3, 3,
             0.6, 0.6, 0.6, 0.6, 0.6, 3.2, 7, 1.3, 1.3, 6.4,
             53.2, 44.5, 10.9, 47.4, 47, 39.7, 9.2, 30, 38.5, 51.3,
             12.2, 33.7, 41.7, 52, 29.9, 36.8, 38.5, 56, 21.8, 25.6]
cloud_median = [66.9, 62.8, 1, 16.4, 22.8, 36.4, 24.6, 13, 22, 68.2,
                28.2, 6.4, 18, 13.7, 11.2, 3.5, 61.5, 67, 48.7, 53.3,
                59.5, 59.5, 43.2, 88.7, 96.8, 82.6, 48.7, 81.4, 91.7, 40,
                23.3, 44.5, 69.5, 60, 20, 71, 86, 64.5, 38.5, 52.2,
                96.8, 83.7, 50, 67, 71, 67, 46.2, 69.2, 76.3, 75,
                60, 67, 77, 80, 68.8, 62.8, 71, 78, 58, 56]
cloud_oper = [75, 68, 0, 2.6, 6.4, 100, 96, 4, 0, 58.3,
              7.7, 1.3, 0, 0, 0, 0, 0, 0, 21.2, 61,
              50, 59.6, 97.7, 100, 0, 0, 0, 0, 0, 0,
              0, 0, 0.6, 45.8, 9, 100, 100, 100, 100, 36.5]
cloud_ctrl = [61, 60.3, 2, 33, 88.5, 96, 100, 14.7, 2.6, 59,
              81.4, 10.3, 0.6, 82, 100, 94.2, 0.6, 79.5, 100, 95,
              91.7, 23, 35.3, 100, 100, 100, 52, 97.7, 76.5, 100,
              86.5, 91, 27.6, 100, 100, 0.6, 0, 0, 0, 0,
              0, 0, 0, 0, 0, 39.7, 100, 100, 100, 87,
              95, 53, 98.7, 36.5, 48.7, 56.4, 95, 97.4, 100, 61.5]

# ---------------- drawing ----------------
W, H = 635, 1800
PXH = 606.2 / 354.0          # pixels per forecast hour
RED = '#c83434'
BLUE = '#3434b4'
GREEN = '#56ae38'
AVG = '#3c0800'
GREY_TXT = '#8c8c8c'

fig = plt.figure(figsize=(W / 100, H / 100), dpi=100)


def fx(x):
    return x / W


def fy(y):
    return 1 - y / H


def add_panel(row, left=28.3, right=634.5):
    top = 20 + 300 * row
    ax = fig.add_axes([fx(left), fy(top + 260), (right - left) / W, 260 / H])
    return ax, (right - left) / PXH


def frame(ax, xmax, yticks):
    ax.set_xlim(0, xmax)
    ax.set_ylim(yticks[0], yticks[-1])
    for h in range(0, int(xmax) + 1, 6):
        if (h - 18) % 24 == 0:
            ax.axvline(h, color='#484848', lw=0.9, zorder=1)
        else:
            ax.axvline(h, color='#cfcfcf', lw=0.7, ls=(0, (3, 2)), zorder=0.5)
    for y in yticks[1:-1]:
        ax.axhline(y, color='#cbcbcb', lw=0.7, zorder=0.5)
    ax.set_yticks(yticks)
    ax.set_xticks([6 + 24 * i for i in range(len(day_labels))])
    ax.set_xticklabels(day_labels)
    ax.set_xticks(np.arange(0, xmax, 6), minor=True)
    ax.tick_params(axis='both', which='both', direction='out', length=3,
                   width=0.6, pad=1.5, labelsize=8)
    ax.tick_params(axis='x', labelsize=7.6, pad=2)
    for s in ax.spines.values():
        s.set_linewidth(0.8)


def header(row, title, squares=False):
    y = 13 + 300 * row
    if not squares:
        items = [(28, 45, 48, 'Oper', dict(color=RED, lw=2.8)),
                 (97, 113, 116, 'Control', dict(color=BLUE, lw=2.8)),
                 (174, 191, 193, 'Members', dict(color='#a8d8a0', lw=0.9)),
                 (262, 279, 282, 'Average', dict(color=AVG, lw=2.2, ls=(0, (1, 1))))]
        for x0, x1, xt, lab, st in items:
            fig.add_artist(Line2D([fx(x0), fx(x1)], [fy(y), fy(y)],
                                  transform=fig.transFigure, **st))
            fig.text(fx(xt), fy(y), lab, ha='left', va='center', fontsize=7.5)
    else:
        items = [(28, 39, 'oper', RED), (87, 97, 'control', BLUE),
                 (157, 167, '50%', '#f6f6b0'), (213, 224, 'median', 'black')]
        for x0, xt, lab, c in items:
            fig.add_artist(Rectangle((fx(x0), fy(y + 3.5)), 7 / W, 7 / H,
                                     transform=fig.transFigure, facecolor=c,
                                     edgecolor='black', lw=0.6))
            fig.text(fx(xt), fy(y), lab, ha='left', va='center', fontsize=7.5)
    fig.text(fx(415), fy(y), title, ha='center', va='center',
             fontsize=9.6, fontweight='bold')
    fig.text(fx(634), fy(y - 8.5), 'Infoplaza.nl - regio midden', ha='right',
             va='center', fontsize=6.7, color=GREY_TXT)
    fig.text(fx(634), fy(y + 0.5), 'Gemaakt: ma 19 mrt 10:00', ha='right',
             va='center', fontsize=6.7, color=GREY_TXT)


def ensemble(row, title, members, avg, oper, ctrl, yticks):
    ax, xmax = add_panel(row)
    frame(ax, xmax, yticks)
    t = np.arange(len(avg)) * 6.0
    for m in members:
        ax.plot(t[:len(m)], m, color=GREEN, lw=1.0, alpha=0.45, zorder=2)
    ax.plot(t[:len(ctrl)], ctrl, color=BLUE, lw=2.6, zorder=4,
            solid_joinstyle='round')
    ax.plot(t[:len(oper)], oper, color=RED, lw=2.6, zorder=4.5,
            solid_joinstyle='round')
    ax.plot(t, avg, color=AVG, lw=2.2, ls=(0, (1, 1)), zorder=5)
    header(row, title)
    return ax


ax1 = ensemble(0, 'Temperatuur 2m', temp_members, temp_avg, temp_oper, temp_ctrl,
               list(range(-10, 26, 5)))
ax1.axhline(0, color='black', lw=1.6, zorder=3)

ensemble(1, 'Dauwpunt 2m', dew_members, dew_avg, dew_oper, dew_ctrl,
         list(range(-15, 21, 5)))
ensemble(2, 'Neerslag', rain_members, rain_avg, rain_oper, rain_ctrl,
         list(range(0, 13, 2)))
ensemble(3, '10m wind', wind_members, wind_avg, wind_oper, wind_ctrl,
         list(range(0, 15, 2)))
ax5 = ensemble(4, '10m windstoten', gust_members, gust_avg, gust_oper, gust_ctrl,
               list(range(0, 27, 2)))
ax5.axhline(gust_threshold, color='#1f4a4a', lw=1.6, ls=(0, (1, 1.3)), zorder=3)

# cloud cover panel: its time grid sits a few pixels further left
ax6, xmax6 = add_panel(5, left=23.8)
frame(ax6, xmax6, list(range(0, 101, 10)))
t6 = np.arange(len(cloud_median)) * 6.0 + 2.6
lo = np.array(cloud_p25)
hi = np.array(cloud_p75)
ax6.bar(t6, hi - lo, bottom=lo, width=4.7, color='#f6f6b0',
        edgecolor='#c8c8a4', lw=0.6, zorder=2)
ax6.hlines(cloud_median, t6 - 2.35, t6 + 2.35, color='black', lw=0.9, zorder=3)
ax6.plot(t6[:len(cloud_ctrl)], cloud_ctrl, color=BLUE, lw=2.2, zorder=4)
ax6.plot(t6[:len(cloud_oper)], cloud_oper, color=RED, lw=2.2, zorder=4.5)
header(5, 'Bedekkingsgraad', squares=True)

fig.savefig('out.png', dpi=100)
